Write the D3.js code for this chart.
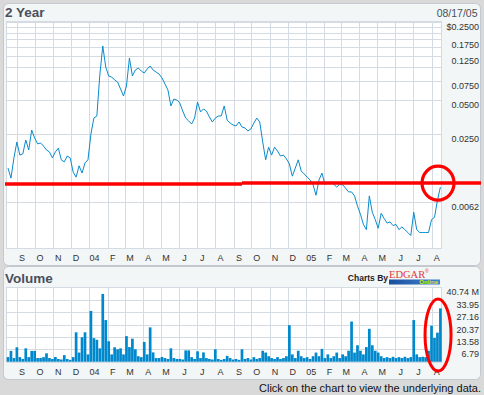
<!DOCTYPE html>
<html>
<head>
<meta charset="utf-8">
<script src="https://cdn.jsdelivr.net/npm/d3@7"></script>
<style>
  body { margin: 0; background: #d9d9d9; }
  svg { display: block; font-family: "Liberation Sans", Arial, sans-serif; }
</style>
</head>
<body>
<div class="chart"></div>
<script>
const w = 484;
const h = 395;

// ---- data ----
const startDate = new Date(2003, 7, 17);
const endDate = new Date(2005, 7, 17);
const stepDays = 5;

const prices = [
  0.0124, 0.0101, 0.0153, 0.0212, 0.0162, 0.0166, 0.0221, 0.0180, 0.0271, 0.0230,
  0.0204, 0.0208, 0.0195, 0.0180, 0.0173, 0.0153, 0.0173, 0.0187, 0.0147, 0.0141,
  0.0159, 0.0153, 0.0114, 0.0103, 0.0130, 0.0112, 0.0138, 0.0147, 0.0250, 0.0347,
  0.0362, 0.0841, 0.1526, 0.0991, 0.0824, 0.0807, 0.0759, 0.0728, 0.0631, 0.0546,
  0.0671, 0.1193, 0.0824, 0.0932, 0.0971, 0.0913, 0.0876, 0.0951, 0.1012, 0.0932,
  0.0894, 0.0858, 0.0791, 0.0698, 0.0618, 0.0445, 0.0513, 0.0503, 0.0473, 0.0401,
  0.0347, 0.0327, 0.0307, 0.0347, 0.0483, 0.0393, 0.0418, 0.0401, 0.0355, 0.0320,
  0.0347, 0.0362, 0.0362, 0.0445, 0.0333, 0.0313, 0.0301, 0.0295, 0.0320, 0.0289,
  0.0283, 0.0266, 0.0277, 0.0313, 0.0347, 0.0320, 0.0212, 0.0147, 0.0191, 0.0162,
  0.0191, 0.0176, 0.0159, 0.0162, 0.0150, 0.0135, 0.0105, 0.0124, 0.0147, 0.0117,
  0.0110, 0.0103, 0.0097, 0.0088, 0.0071, 0.0097, 0.0112, 0.0089, 0.0091, 0.0093,
  0.0089, 0.0084, 0.0089, 0.0088, 0.0082, 0.0076, 0.0076, 0.0070, 0.0057, 0.0048,
  0.0039, 0.0035, 0.0070, 0.0050, 0.0043, 0.0036, 0.0049, 0.0044, 0.0040, 0.0041,
  0.0038, 0.0039, 0.0035, 0.0037, 0.0035, 0.0033, 0.0031, 0.0050, 0.0035, 0.0033,
  0.0033, 0.0033, 0.0033, 0.0043, 0.0045, 0.0064, 0.0084
];

// millions of shares
const volumes = [
  2.5, 5.9, 2, 7.9, 2.5, 1.5, 7.3, 2.5, 5.9, 5.9,
  2, 2, 2.5, 4.6, 2, 1.5, 2.6, 1.5, 1.2, 3.6,
  1.5, 1, 2.5, 16.1, 5, 13.4, 16.1, 4, 27.8, 12.9,
  12, 7.3, 37.1, 22.8, 11.2, 4, 7.9, 6.8, 7.3, 4,
  14, 8, 12.6, 6.8, 3, 2.5, 10.8, 4, 18.8, 5.1,
  2, 2, 2.6, 2, 1.5, 7.3, 2, 1.5, 1.5, 1.2,
  6.2, 6.2, 2.5, 1.5, 5.7, 2, 5.1, 2, 1.5, 1.2,
  6.8, 1.5, 1, 1.5, 3.2, 2, 1.2, 1.5, 1, 6.8,
  1.5, 2, 1.2, 2.5, 1.5, 2, 6, 5, 3, 2,
  1.5, 2.5, 1.5, 2, 3, 20, 4, 2, 6, 3,
  2, 2.5, 1.5, 3, 5, 3, 7, 2, 4, 2,
  3, 5, 2, 4, 3, 6, 22, 5, 9, 6,
  4, 8, 18, 9, 6, 5, 3, 2, 2.5, 2,
  2.7, 2, 2.5, 2, 2.7, 2, 2.5, 22.8, 4, 2.5,
  2.7, 2.5, 6, 19.7, 13, 15.9, 29.2
];

const priceTicks = [0.25, 0.175, 0.125, 0.075, 0.05, 0.025, 0.0062];
const priceTickLabels = ['$0.2500', '0.1750', '0.1250', '0.0750', '0.0500', '0.0250', '0.0062'];
const priceGrid = [0.25, 0.225, 0.2, 0.175, 0.15, 0.125, 0.1, 0.075, 0.05, 0.025, 0.0062];
const volTicks = [6.79, 13.58, 20.37, 27.16, 33.95, 40.74];
const volTickLabels = ['6.79', '13.58', '20.37', '27.16', '33.95', '40.74 M'];
const volGrid = [0, 6.79, 13.58, 20.37, 27.16, 33.95, 40.74];
const monthLabels = ['S', 'O', 'N', 'D', '04', 'F', 'M', 'A', 'M', 'J', 'J', 'A',
                     'S', 'O', 'N', 'D', '05', 'F', 'M', 'A', 'M', 'J', 'J', 'A'];

// hand-drawn red marks
const markLevels = [0.00895, 0.00912];
const markSplit = new Date(2004, 8, 15);
const markDate = new Date(2005, 7, 12);
const markVolume = 14.6;

const series = prices.map((p, i) => ({
  date: d3.timeDay.offset(startDate, i * stepDays),
  price: p,
  volume: volumes[i]
}));
const months = d3.timeMonth.range(new Date(2003, 8, 1), endDate);

// ---- layout ----
const plotL = 6.5, plotR = 441.5;
const pTop = 21.5, pBot = 248.5;
const vTop = 287.5, vBot = 362;
const textColor = '#333';
const gridColor = '#d5dbe3';
const blue = '#0a8bcc';

const svg = d3.select('.chart').append('svg').attr('width', w).attr('height', h);

// panels
svg.append('rect').attr('x', 3.5).attr('y', 3.5).attr('width', 477).attr('height', 262)
  .attr('rx', 5).attr('fill', '#f2f6f6').attr('stroke', '#c3c9cf');
svg.append('rect').attr('x', 3.5).attr('y', 266.5).attr('width', 477).attr('height', 113)
  .attr('rx', 5).attr('fill', '#f2f6f6').attr('stroke', '#c3c9cf');

// scales
const x = d3.scaleTime().domain([startDate, endDate]).range([8, 441]);
const y = d3.scaleLog().domain([0.0025, 0.25]).range([246, 22]);
const yv = d3.scaleLinear().domain([0, 40.74]).range([361.7, 287.3]);

// plot backgrounds
svg.append('rect').attr('x', plotL).attr('y', pTop).attr('width', plotR - plotL).attr('height', pBot - pTop)
  .attr('fill', '#fff').attr('stroke', gridColor);
svg.append('rect').attr('x', plotL).attr('y', vTop).attr('width', plotR - plotL).attr('height', vBot - vTop)
  .attr('fill', '#fff').attr('stroke', gridColor);

function vGrid(top, bot) {
  svg.append('g')
    .attr('transform', `translate(0,${bot})`)
    .call(d3.axisBottom(x).tickValues(months).tickSize(-(bot - top)).tickFormat(''))
    .call(g => g.select('.domain').remove())
    .call(g => g.selectAll('line').attr('stroke', gridColor).attr('shape-rendering', 'crispEdges'));
}
vGrid(pTop, pBot);
vGrid(vTop, vBot);

// horizontal grid
svg.append('g')
  .attr('transform', `translate(${plotL},0)`)
  .call(d3.axisRight(y).tickValues(priceGrid).tickSize(plotR - plotL).tickFormat(''))
  .call(g => g.select('.domain').remove())
  .call(g => g.selectAll('line').attr('stroke', gridColor).attr('shape-rendering', 'crispEdges'));
svg.append('g')
  .attr('transform', `translate(${plotL},0)`)
  .call(d3.axisRight(yv).tickValues(volGrid).tickSize(plotR - plotL).tickFormat(''))
  .call(g => g.select('.domain').remove())
  .call(g => g.selectAll('line').attr('stroke', gridColor).attr('shape-rendering', 'crispEdges'));

// y labels
function yLabels(scale, vals, labels) {
  svg.append('g')
    .attr('transform', 'translate(479,0)')
    .call(d3.axisRight(scale).tickValues(vals).tickSize(0).tickFormat((d, i) => labels[i]))
    .call(g => g.select('.domain').remove())
    .call(g => g.selectAll('text')
      .attr('x', 0).attr('dy', '0.85em').attr('text-anchor', 'end')
      .attr('fill', textColor).style('font-size', '9px')
      .style('font-family', '"Liberation Sans", Arial, sans-serif'));
}
yLabels(y, priceTicks, priceTickLabels);
yLabels(yv, volTicks, volTickLabels);

// month labels
function xLabels(base) {
  svg.append('g')
    .attr('transform', `translate(0,${base})`)
    .call(d3.axisBottom(x).tickValues(months.map(m => d3.timeDay.offset(m, 8)))
      .tickSize(0).tickFormat((d, i) => monthLabels[i]))
    .call(g => g.select('.domain').remove())
    .call(g => g.selectAll('text').attr('y', 0).attr('dy', 0)
      .attr('fill', textColor).style('font-size', '9px')
      .style('font-family', '"Liberation Sans", Arial, sans-serif'));
}
xLabels(260.5);
xLabels(374.5);

// price line
const line = d3.line().x(d => x(d.date)).y(d => y(d.price));
svg.append('path').datum(series)
  .attr('d', line).attr('fill', 'none').attr('stroke', blue).attr('stroke-width', 1);

// volume bars
svg.append('g').selectAll('rect').data(series).enter().append('rect')
  .attr('x', d => x(d.date) - 1.35)
  .attr('y', d => yv(d.volume))
  .attr('width', 2.7)
  .attr('height', d => yv(0) - yv(d.volume))
  .attr('fill', '#0088cc');

// titles
svg.append('text').attr('x', 5).attr('y', 17.3).text('2 Year')
  .attr('fill', '#4a4f5c').style('font-size', '13.5px').style('font-weight', 'bold');
svg.append('text').attr('x', 477.5).attr('y', 17.3).attr('text-anchor', 'end').text('08/17/05')
  .attr('fill', '#4a4f5c').style('font-size', '10.5px');
svg.append('text').attr('x', 5).attr('y', 283.3).text('Volume')
  .attr('fill', '#4a4f5c').style('font-size', '13.5px').style('font-weight', 'bold');

// EDGAR Online logo
svg.append('text').attr('x', 388).attr('y', 280.5).attr('text-anchor', 'end').text('Charts By')
  .attr('fill', '#222').style('font-size', '8.5px').style('font-weight', 'bold');
svg.append('text').attr('x', 389).attr('y', 277.5).text('EDGAR')
  .attr('fill', '#e0393e').style('font-size', '10.5px')
  .style('font-family', '"Liberation Serif", "DejaVu Serif", serif');
svg.append('text').attr('x', 425).attr('y', 273).text('®')
  .attr('fill', '#e0393e').style('font-size', '5px');
const grad = svg.append('defs').append('linearGradient').attr('id', 'eg');
grad.append('stop').attr('offset', '0%').attr('stop-color', '#1b4e9b');
grad.append('stop').attr('offset', '100%').attr('stop-color', '#3f86d6');
svg.append('rect').attr('x', 389).attr('y', 279.5).attr('width', 51).attr('height', 5).attr('fill', 'url(#eg)');
svg.append('text').attr('x', 438).attr('y', 284.2).attr('text-anchor', 'end').text('Online')
  .attr('fill', '#d4ee00').style('font-size', '6px').style('font-weight', 'bold');

// red annotations
svg.append('line').attr('x1', 5).attr('x2', x(markSplit))
  .attr('y1', y(markLevels[0])).attr('y2', y(markLevels[0]))
  .attr('stroke', '#ff0000').attr('stroke-width', 3.5);
svg.append('line').attr('x1', x(markSplit)).attr('x2', 481)
  .attr('y1', y(markLevels[1])).attr('y2', y(markLevels[1]))
  .attr('stroke', '#ff0000').attr('stroke-width', 3.5);
svg.append('ellipse').attr('cx', x(markDate)).attr('cy', y(markLevels[1]))
  .attr('rx', 16).attr('ry', 17).attr('fill', 'none').attr('stroke', '#ff0000').attr('stroke-width', 3.2);
svg.append('ellipse').attr('cx', x(markDate)).attr('cy', yv(markVolume))
  .attr('rx', 13).attr('ry', 36).attr('fill', 'none').attr('stroke', '#ff0000').attr('stroke-width', 3);

// footer
svg.append('text').attr('x', 481).attr('y', 392).attr('text-anchor', 'end')
  .text('Click on the chart to view the underlying data.')
  .attr('fill', '#111').style('font-size', '11px');
</script>
</body>
</html>
